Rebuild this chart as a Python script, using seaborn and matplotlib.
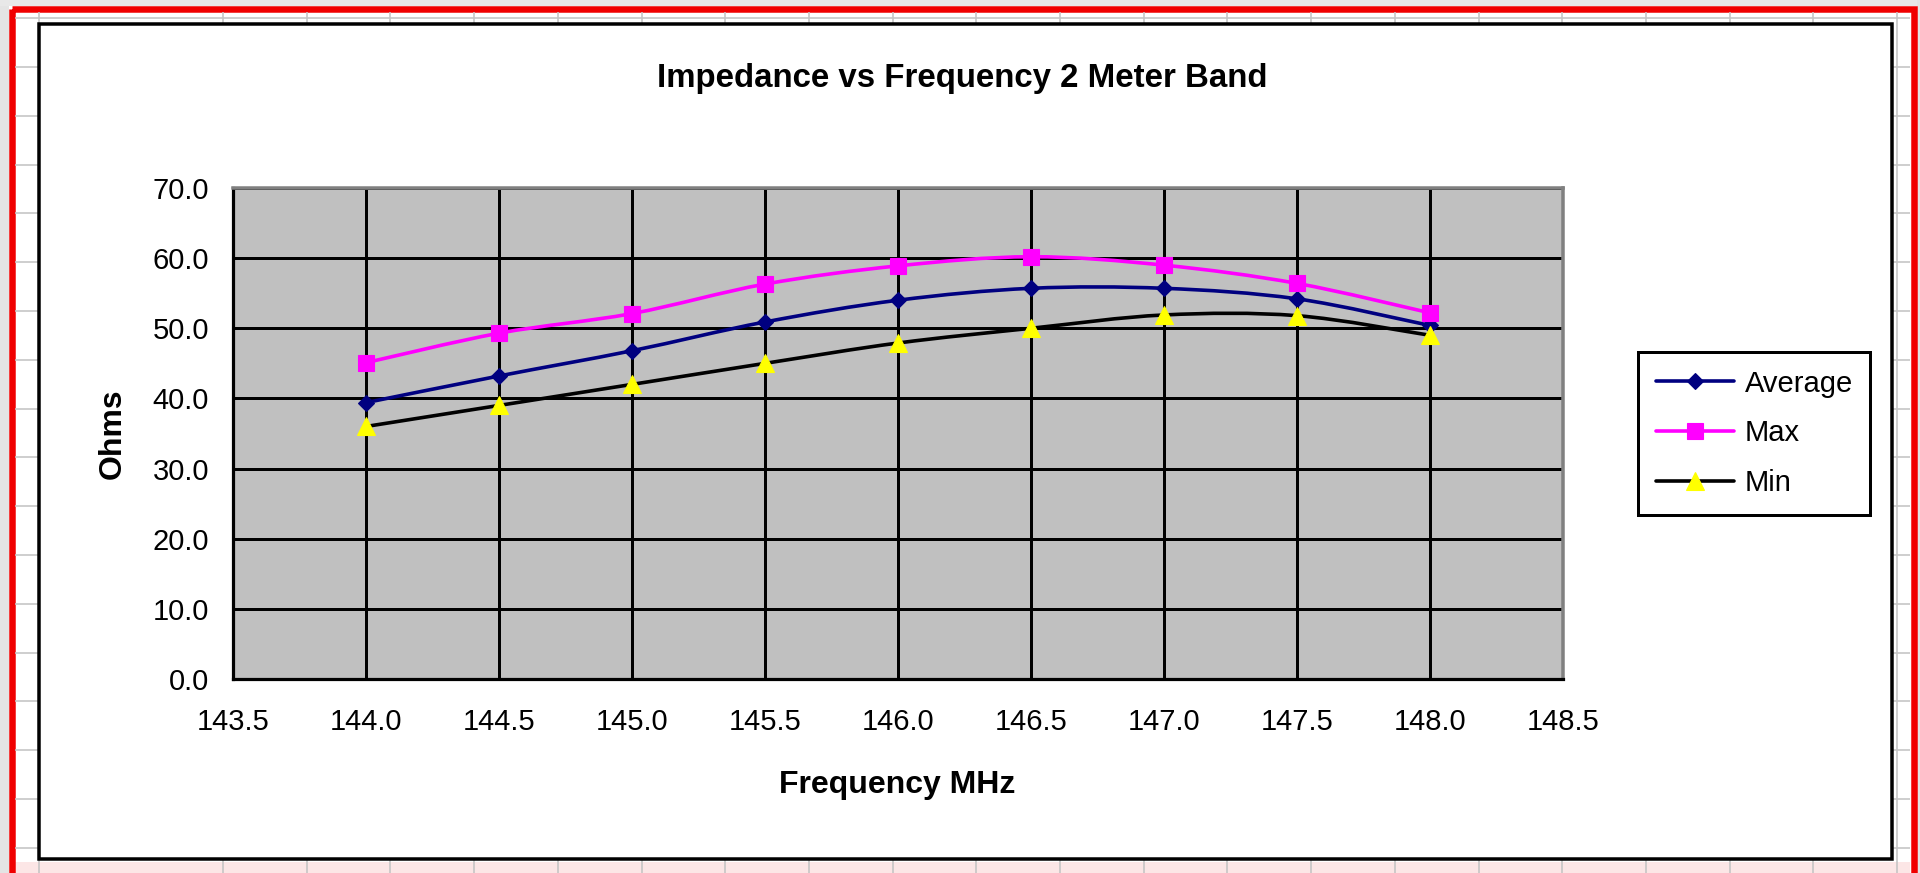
import numpy as np
import pandas as pd
import matplotlib
matplotlib.use("Agg")
import matplotlib.pyplot as plt
from matplotlib.path import Path
from matplotlib.patches import PathPatch, Rectangle
from matplotlib.lines import Line2D
import seaborn as sns

# ---------------- data ----------------
freq_mhz = [144.0, 144.5, 145.0, 145.5, 146.0, 146.5, 147.0, 147.5, 148.0]
average_ohms = [39.4, 43.2, 46.8, 50.9, 54.0, 55.7, 55.7, 54.2, 50.4]
max_ohms = [45.1, 49.3, 52.1, 56.3, 58.9, 60.2, 59.0, 56.4, 52.2]
min_ohms = [36.0, 39.0, 42.0, 45.0, 47.9, 50.0, 51.9, 51.8, 49.0]
series_names = ["Average", "Max", "Min"]
x_ticks = [143.5, 144.0, 144.5, 145.0, 145.5, 146.0, 146.5, 147.0, 147.5, 148.0, 148.5]
y_ticks = [0, 10, 20, 30, 40, 50, 60, 70]
title_text = "Impedance vs Frequency 2 Meter Band"
x_label = "Frequency MHz"
y_label = "Ohms"

df = pd.DataFrame({"freq": freq_mhz, "Average": average_ohms, "Max": max_ohms, "Min": min_ohms})

# ---------------- style ----------------
sns.set_style("white")
plt.rcParams["font.family"] = ["Liberation Sans", "DejaVu Sans"]
plt.rcParams["text.color"] = "black"
plt.rcParams["axes.labelcolor"] = "black"
plt.rcParams["xtick.color"] = "black"
plt.rcParams["ytick.color"] = "black"

W, H = 1920, 873
fig = plt.figure(figsize=(W / 100, H / 100), dpi=100)
PX = 0.72  # points per pixel at dpi 100

# ---------------- background (spreadsheet + chart area) ----------------
bg = fig.add_axes([0, 0, 1, 1], zorder=-10)
bg.set_xlim(0, W)
bg.set_ylim(H, 0)
bg.axis("off")
bg.add_patch(Rectangle((0, 0), W, H, facecolor="white", edgecolor="none"))
bg.add_patch(Rectangle((0, 0), 9, H, facecolor="#e4e4e4", edgecolor="none"))
bg.add_patch(Rectangle((0, 0), W, 6, facecolor="#e8e8e8", edgecolor="none"))
bg.add_patch(Rectangle((1917, 0), 3, H, facecolor="#e4e4e4", edgecolor="none"))
bg.add_patch(Rectangle((15, 862), 1895, 11, facecolor="#fce6e6", edgecolor="none"))
# spreadsheet cell lines
for k in range(18):
    yy = 18.2 + 48.8 * k
    bg.plot([15, 1910], [yy, yy], color="#c4c4c4", lw=1.6 * PX, solid_capstyle="butt")
col_x = [39] + [223 + 83.7 * k for k in range(21)]
for xx in col_x:
    bg.plot([xx, xx], [12, H], color="#c4c4c4", lw=1.6 * PX, solid_capstyle="butt")
# red selection border
bg.add_patch(Rectangle((12, 9), 1901.5, 880, facecolor="none", edgecolor="#f00000", lw=6.5 * PX))
# chart area
bg.add_patch(Rectangle((39, 24), 1853, 835, facecolor="white", edgecolor="black", lw=3.5 * PX, zorder=5))

# ---------------- plot area ----------------
L, R, T, B = 233, 1563, 188, 679
ax = fig.add_axes([L / W, 1 - B / H, (R - L) / W, (B - T) / H])
ax.set_facecolor("#c0c0c0")
ax.set_xlim(143.5, 148.5)
ax.set_ylim(0, 70)
ax.set_xticks(x_ticks)
ax.set_yticks(y_ticks)
ax.set_xticklabels([f"{v:.1f}" for v in x_ticks])
ax.set_yticklabels([f"{v:.1f}" for v in y_ticks])
ax.set_axisbelow(True)
ax.grid(True, color="black", lw=3 * PX)

for side in ["top", "right"]:
    ax.spines[side].set_color("#808080")
    ax.spines[side].set_linewidth(3.5 * PX)
    ax.spines[side].set_visible(True)
for side in ["left", "bottom"]:
    ax.spines[side].set_color("black")
    ax.spines[side].set_linewidth(3.2 * PX)
    ax.spines[side].set_visible(True)

ax.tick_params(axis="both", direction="out", length=10 * PX, width=3 * PX, color="black",
               labelsize=21, labelcolor="black")
ax.tick_params(axis="x", pad=14)
ax.tick_params(axis="y", pad=10)


def smooth_path(xs, ys):
    """Excel-style smoothed line: cubic Bezier segments through the data points."""
    xs = np.asarray(xs, float)
    ys = np.asarray(ys, float)
    n = len(xs)
    verts = [(xs[0], ys[0])]
    codes = [Path.MOVETO]
    for i in range(n - 1):
        i0 = max(i - 1, 0)
        i3 = min(i + 2, n - 1)
        c1 = (xs[i] + (xs[i + 1] - xs[i0]) / 6, ys[i] + (ys[i + 1] - ys[i0]) / 6)
        c2 = (xs[i + 1] - (xs[i3] - xs[i]) / 6, ys[i + 1] - (ys[i3] - ys[i]) / 6)
        verts += [c1, c2, (xs[i + 1], ys[i + 1])]
        codes += [Path.CURVE4] * 3
    return Path(verts, codes)


styles = {
    "Average": dict(line="#000080", marker="D", mfc="#000080", mec="#000080", ms=8.2),
    "Max": dict(line="#ff00ff", marker="s", mfc="#ff00ff", mec="#ff00ff", ms=11.5),
    "Min": dict(line="black", marker="^", mfc="#ffff00", mec="#ffff00", ms=12.5),
}

handles = []
for z, name in enumerate(series_names):
    st = styles[name]
    ax.add_patch(PathPatch(smooth_path(df["freq"], df[name]), facecolor="none",
                           edgecolor=st["line"], lw=3.6 * PX, zorder=3 + 2 * z, capstyle="round"))
    sns.lineplot(data=df, x="freq", y=name, ax=ax, linestyle="none", marker=st["marker"],
                 markersize=st["ms"], markerfacecolor=st["mfc"], markeredgecolor=st["mec"],
                 markeredgewidth=0.8, color=st["line"], zorder=4 + 2 * z, legend=False)
    handles.append(Line2D([], [], color=st["line"], lw=3.6 * PX, marker=st["marker"],
                          markersize=st["ms"], markerfacecolor=st["mfc"],
                          markeredgecolor=st["mec"], markeredgewidth=0.8))

ax.set_xlabel(x_label, fontsize=23, fontweight="bold")
ax.set_ylabel(y_label, fontsize=23, fontweight="bold")
ax.xaxis.label.set_va("center")
ax.yaxis.label.set_va("center")
ax.xaxis.set_label_coords((897 - L) / (R - L), (B - 785) / (B - T))
ax.yaxis.set_label_coords((113 - L) / (R - L), 0.5)

ax.set_title(title_text, fontsize=23.8, fontweight="bold", x=(962 - L) / (R - L),
             y=(B - 87) / (B - T), va="center", color="black")

leg = fig.legend(handles, series_names, loc="upper left",
                 bbox_to_anchor=(1638 / W, 1 - 352 / H), fontsize=21, frameon=True,
                 fancybox=False, edgecolor="black", framealpha=1, handlelength=2.7,
                 handletextpad=0.35, labelspacing=0.75, borderpad=0.6, borderaxespad=0)
leg.get_frame().set_linewidth(3 * PX)
leg.set_zorder(20)

fig.savefig("out.png", dpi=100)
